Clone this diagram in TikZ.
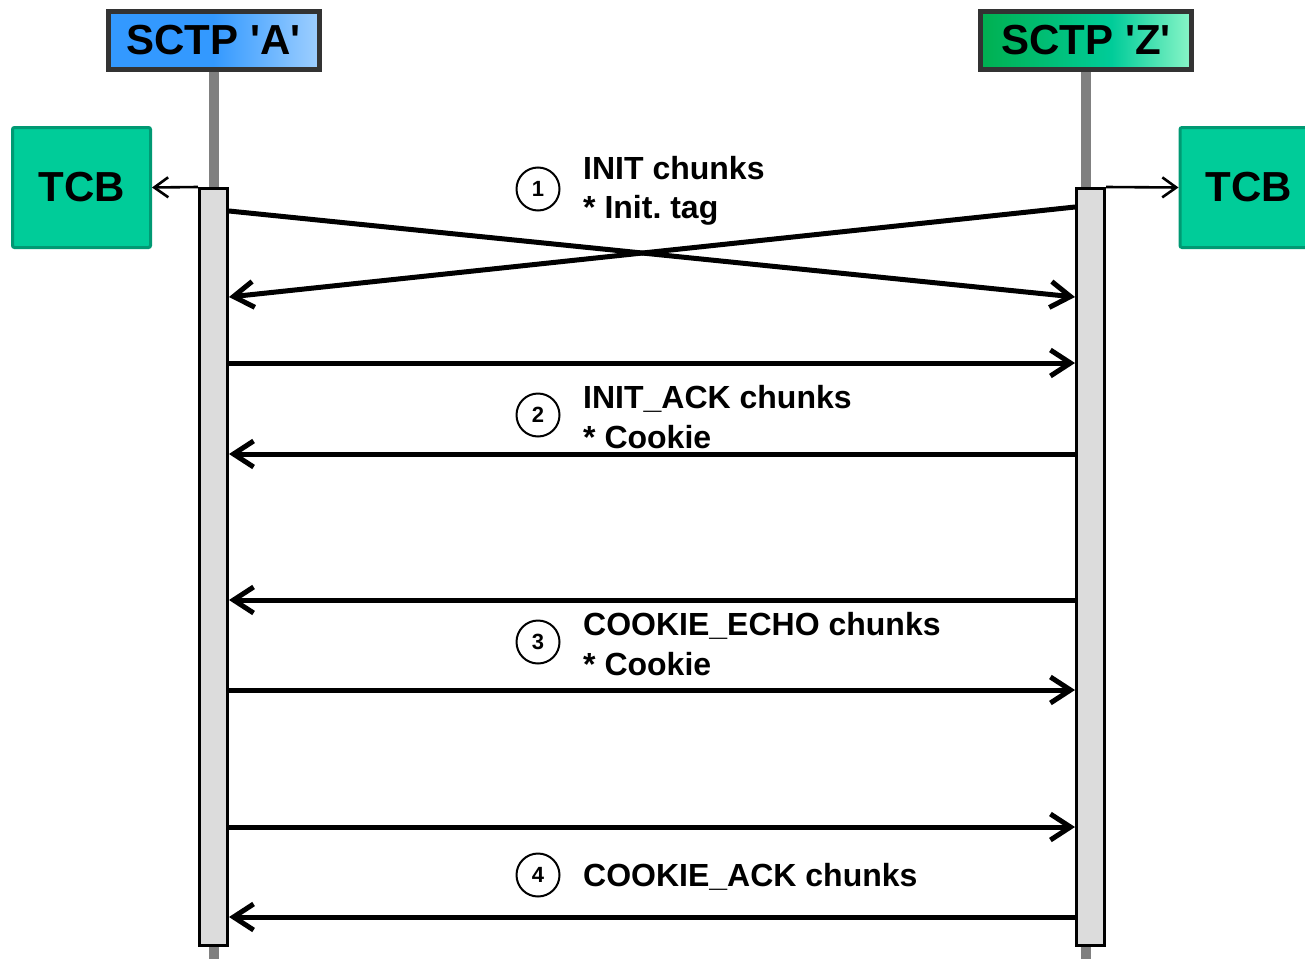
\documentclass[tikz,border=0pt]{standalone}
\usepackage{fontspec}
\setmainfont{Liberation Sans}
\usetikzlibrary{arrows.meta,positioning}
\definecolor{sctpblue}{HTML}{3399FF}
\definecolor{sctpbluelight}{HTML}{9ECFFF}
\definecolor{sctpgreen}{HTML}{00B050}
\definecolor{sctpgreenmid}{HTML}{00CC99}
\definecolor{sctpgreenlight}{HTML}{8AF5C8}
\definecolor{hdredge}{HTML}{333333}
\definecolor{tcbfill}{HTML}{00CC99}
\definecolor{tcbedge}{HTML}{009973}
\definecolor{barfill}{HTML}{DCDCDC}
\definecolor{lifegray}{HTML}{808080}
\pgfdeclarehorizontalshading{shadeA}{100bp}{color(0bp)=(sctpblue); color(25bp)=(sctpblue); color(50bp)=(sctpblue); color(75bp)=(sctpbluelight); color(100bp)=(sctpbluelight)}
\pgfdeclarehorizontalshading{shadeZ}{100bp}{color(0bp)=(sctpgreen); color(25bp)=(sctpgreen); color(56bp)=(sctpgreenmid); color(75bp)=(sctpgreenlight); color(100bp)=(sctpgreenlight)}
\begin{document}
\begin{tikzpicture}[x=1pt,y=-1pt,
    header/.style={draw=hdredge, line width=5pt, minimum width=211pt, minimum height=58pt,
        inner sep=0pt, font=\bfseries\fontsize{42}{48}\selectfont},
    tcb/.style={draw=tcbedge, fill=tcbfill, line width=3pt, rounded corners=2pt,
        minimum width=138pt, minimum height=120pt, font=\bfseries\fontsize{42}{48}\selectfont},
    bar/.style={draw=black, fill=barfill, line width=3pt, minimum width=28pt,
        minimum height=757pt, inner sep=0pt},
    life/.style={draw=lifegray, line width=10pt},
    msg/.style={line width=5pt, -{Straight Barb[length=20pt,width=26pt]}},
    tcbarrow/.style={line width=2.6pt, -{Straight Barb[length=14pt,width=20pt]}},
    stepnum/.style={circle, draw, line width=2pt, minimum size=43pt, inner sep=0pt,
        font=\bfseries\fontsize{22}{26}\selectfont},
    msglabel/.style={inner sep=0pt, align=left, yshift=-2pt,
        font=\bfseries\fontsize{32}{39.5}\selectfont}]
    \useasboundingbox (0,0) rectangle (1305,958);
    \clip (0,0) rectangle (1305,958);
    \node[header, shading=shadeA] (hdrA) at (213.5,40.5) {SCTP \textquotesingle A\textquotesingle};
    \node[header, shading=shadeZ] (hdrZ) at (1086,40.5) {SCTP \textquotesingle Z\textquotesingle};
    \draw[life] (hdrA.south) -- (hdrA.south |- 0,970);
    \draw[life] (hdrZ.south) -- (hdrZ.south |- 0,970);
    \node[bar] (barA) at (213.5,567) {};
    \node[bar] (barZ) at (1090.5,567) {};
    \node[tcb] (tcbA) at (81.5,187.5) {TCB};
    \node[tcb] (tcbZ) at (1249,187.5) {TCB};
    \draw[tcbarrow] (barA.north west) -- (tcbA.east);
    \draw[tcbarrow] (barZ.north east) -- (tcbZ.west);
    % INIT
    \draw[msg] (barA.east |- 0,211) -- (barZ.west |- 0,297);
    \draw[msg] (barZ.west |- 0,207) -- (barA.east |- 0,297);
    \node[stepnum] (c1) at (538,189) {1};
    \node[msglabel, right=22.5pt of c1] (l1) {INIT chunks\\* Init.\ tag};
    % INIT_ACK
    \draw[msg] (barA.east |- 0,363) -- (barZ.west |- 0,363);
    \draw[msg] (barZ.west |- 0,454) -- (barA.east |- 0,454);
    \node[stepnum] (c2) at (538,415) {2};
    \node[msglabel, right=22.5pt of c2] (l2) {INIT\_ACK chunks\\* Cookie};
    % COOKIE_ECHO
    \draw[msg] (barZ.west |- 0,600) -- (barA.east |- 0,600);
    \draw[msg] (barA.east |- 0,690) -- (barZ.west |- 0,690);
    \node[stepnum] (c3) at (538,642) {3};
    \node[msglabel, right=22.5pt of c3] (l3) {COOKIE\_ECHO chunks\\* Cookie};
    % COOKIE_ACK
    \draw[msg] (barA.east |- 0,827) -- (barZ.west |- 0,827);
    \draw[msg] (barZ.west |- 0,917) -- (barA.east |- 0,917);
    \node[stepnum] (c4) at (538,875) {4};
    \node[msglabel, right=22.5pt of c4] (l4) {COOKIE\_ACK chunks};
\end{tikzpicture}
\end{document}
